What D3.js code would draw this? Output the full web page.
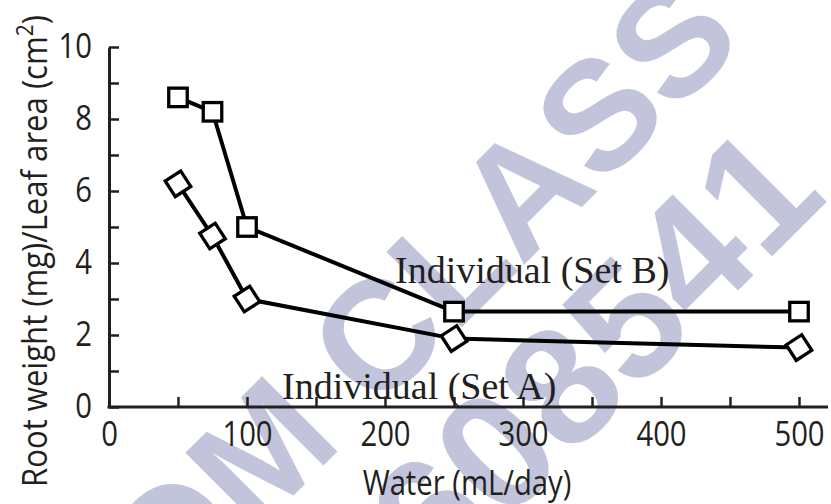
<!DOCTYPE html>
<html>
<head>
<meta charset="utf-8">
<script src="https://cdn.jsdelivr.net/npm/d3@7"></script>
<style>
  body { margin: 0; background: #fff; }
  svg { display: block; }
</style>
</head>
<body>
<svg id="chart" width="831" height="504"></svg>
<script>
// Water supply (mL/day) and root weight / leaf area ratio for the two sets
const water = [50, 75, 100, 250, 500];
const setA = [6.2, 4.75, 3.0, 1.9, 1.65];
const setB = [8.6, 8.2, 5.0, 2.65, 2.65];
const xTickLabels = [0, 100, 200, 300, 400, 500];
const yTickLabels = [0, 2, 4, 6, 8, 10];
const seriesLabels = ["Individual (Set A)", "Individual (Set B)"];
const watermarkLines = ["OM CLASS", "608541"];

const svg = d3.select("#chart");
const W = 831, H = 504;
const ink = "#231f20";
const sansFont = "'Open Sans', 'Noto Sans', sans-serif";
const serifFont = "'Liberation Serif', 'DejaVu Serif', serif";
const squeezeK = 0.86;   // horizontal compression for the sans labels

// compress a text horizontally so it reads like a semi-condensed face
function squeeze(sel, k) {
  sel.each(function () {
    const L = this.getComputedTextLength();
    if (L > 0) d3.select(this).attr("textLength", L * k).attr("lengthAdjust", "spacingAndGlyphs");
  });
}

const margin = { left: 109, right: 32, top: 47, bottom: 97 };
const x = d3.scaleLinear().domain([0, 500]).range([margin.left, W - margin.right]);
const y = d3.scaleLinear().domain([0, 10]).range([H - margin.bottom, margin.top]);

// background watermark
const wm = svg.append("g").attr("fill", "#c1c4da")
  .attr("font-family", "'Liberation Sans', Arial, sans-serif").attr("font-weight", "bold");
wm.append("text")
  .attr("transform", "translate(418,292) rotate(-45)")
  .attr("text-anchor", "middle").attr("dy", "0.36em")
  .attr("font-size", 155)
  .text(watermarkLines[0]);
wm.append("text")
  .attr("transform", "translate(592,352) rotate(-45)")
  .attr("text-anchor", "middle").attr("dy", "0.36em")
  .attr("font-size", 166)
  .text(watermarkLines[1]);

// x axis: ticks every 50 pointing inward, labels every 100
const xAxis = d3.axisBottom(x)
  .tickValues(d3.range(0, 501, 50))
  .tickSize(-10).tickSizeOuter(0).tickPadding(15)
  .tickFormat(d => xTickLabels.includes(d) ? d : "");
const gx = svg.append("g").attr("transform", `translate(0,${y(0)})`).call(xAxis);
gx.select(".domain").attr("d", `M${x(0) - 1.5},0H${x.range()[1] + 29}`);

// y axis: ticks every 1 pointing inward, labels every 2
const yAxis = d3.axisLeft(y)
  .tickValues(d3.range(0, 11, 1))
  .tickSize(-10).tickSizeOuter(0).tickPadding(17)
  .tickFormat(d => yTickLabels.includes(d) ? d : "");
const gy = svg.append("g").attr("transform", `translate(${x(0)},0)`).call(yAxis);

[gx, gy].forEach(g => {
  g.select(".domain").attr("stroke", ink).attr("stroke-width", 3);
  g.selectAll(".tick line").attr("stroke", ink).attr("stroke-width", 2.5);
  g.selectAll(".tick text").attr("fill", ink)
    .attr("font-family", sansFont).attr("font-size", 34);
  squeeze(g.selectAll(".tick text"), squeezeK);
});
gx.selectAll(".tick").filter(d => d === 0).select("line").remove();

// axis titles
const xt = svg.append("text")
  .attr("x", 467).attr("y", 495)
  .attr("text-anchor", "middle")
  .attr("font-family", sansFont).attr("font-size", 34).attr("fill", ink)
  .text("Water (mL/day)");
squeeze(xt, squeezeK);

const yt = svg.append("text")
  .attr("text-anchor", "middle")
  .attr("font-family", sansFont).attr("font-size", 34).attr("fill", ink);
yt.append("tspan").text("Root weight (mg)/Leaf area (cm");
yt.append("tspan").attr("font-size", 23).attr("dy", "-0.6em").text("2");
yt.append("tspan").attr("dy", "0.4em").text(")");
const ytLen = yt.node().getComputedTextLength();
yt.attr("transform", `translate(47,251) rotate(-90) scale(${472 / ytLen},1)`);

// series lines
const line = d3.line().x(d => x(d[0])).y(d => y(d[1]));
const ptsA = water.map((w, i) => [w, setA[i]]);
const ptsB = water.map((w, i) => [w, setB[i]]);
[ptsA, ptsB].forEach(pts => {
  svg.append("path").datum(pts)
    .attr("d", line)
    .attr("fill", "none").attr("stroke", "#000")
    .attr("stroke-width", 4).attr("stroke-linejoin", "round");
});

// markers: squares for Set B, tilted squares for Set A
const side = 18.5;
svg.append("g").selectAll("rect").data(ptsB).join("rect")
  .attr("x", d => x(d[0]) - side / 2).attr("y", d => y(d[1]) - side / 2)
  .attr("width", side).attr("height", side)
  .attr("fill", "#fff").attr("stroke", "#000").attr("stroke-width", 3.3);
svg.append("g").selectAll("rect").data(ptsA).join("rect")
  .attr("transform", d => `translate(${x(d[0])},${y(d[1])}) rotate(57)`)
  .attr("x", -side / 2).attr("y", -side / 2)
  .attr("width", side).attr("height", side)
  .attr("fill", "#fff").attr("stroke", "#000").attr("stroke-width", 3.3);

// series labels
svg.append("text")
  .attr("x", 282).attr("y", 399)
  .attr("font-family", serifFont).attr("font-size", 38).attr("fill", ink)
  .text(seriesLabels[0]);
svg.append("text")
  .attr("x", 395).attr("y", 283)
  .attr("font-family", serifFont).attr("font-size", 38).attr("fill", ink)
  .text(seriesLabels[1]);
</script>
</body>
</html>
